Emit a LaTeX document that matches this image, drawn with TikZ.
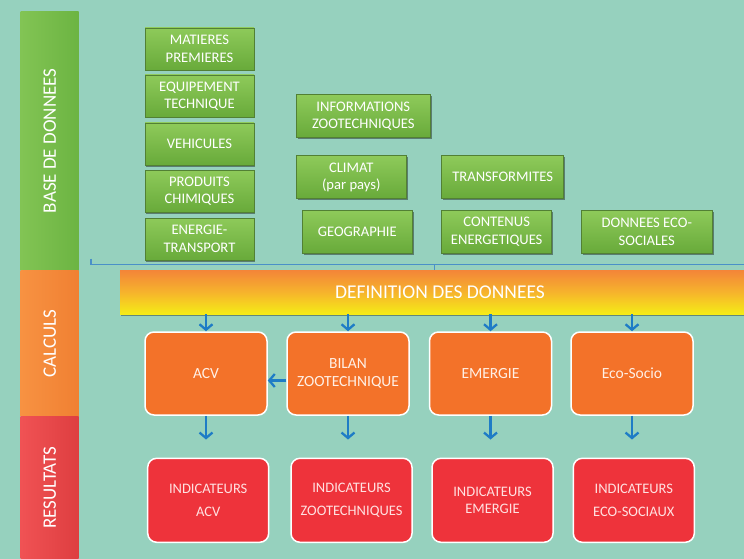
\documentclass[tikz,border=0pt]{standalone}
\usepackage{fontspec}
\setmainfont{Carlito}
\usetikzlibrary{arrows.meta,shadows}
\definecolor{bg}{RGB}{150,209,190}
\definecolor{gtop}{RGB}{142,202,90}
\definecolor{gbot}{RGB}{104,170,58}
\definecolor{gborder}{RGB}{82,128,52}
\definecolor{barg1}{RGB}{130,196,84}
\definecolor{barg2}{RGB}{108,180,66}
\definecolor{baro1}{RGB}{247,146,66}
\definecolor{baro2}{RGB}{240,128,50}
\definecolor{barr1}{RGB}{240,82,84}
\definecolor{barr2}{RGB}{222,62,64}
\definecolor{deftop}{RGB}{244,134,56}
\definecolor{defmid}{RGB}{246,180,44}
\definecolor{defbot}{RGB}{245,236,22}
\definecolor{orangebox}{RGB}{243,114,41}
\definecolor{redbox}{RGB}{238,51,59}
\definecolor{otext}{RGB}{255,240,230}
\definecolor{rtext}{RGB}{255,225,225}
\definecolor{arrowblue}{RGB}{30,124,198}
\definecolor{bracketblue}{RGB}{74,144,200}
\begin{document}
\begin{tikzpicture}[x=1pt,y=-1pt,
  gbox/.style={rectangle, draw=gborder, line width=0.8pt, top color=gtop, bottom color=gbot,
    text=white, align=center, font=\fontsize{14.6}{17.5}\selectfont, inner sep=0pt,
    drop shadow={shadow xshift=1.2pt, shadow yshift=-1.5pt, opacity=0.4, fill=black}},
  sidebar/.style={rectangle, inner sep=0pt, minimum width=58pt},
  sidetext/.style={rotate=90, text=white, font=\fontsize{19}{22}\selectfont},
  defbar/.style={rectangle, inner sep=0pt, top color=deftop, bottom color=defbot, middle color=defmid,
    text=white, font=\fontsize{19.5}{22}\selectfont,
    drop shadow={shadow xshift=1pt, shadow yshift=-1.5pt, opacity=0.35, fill=black}},
  obox/.style={rectangle, rounded corners=9pt, fill=orangebox, draw=white, line width=1.5pt,
    text=otext, align=center, font=\fontsize{15.5}{18}\selectfont,
    minimum width=122pt, minimum height=83pt, inner sep=0pt},
  rbox/.style={rectangle, rounded corners=9pt, fill=redbox, draw=white, line width=1.5pt,
    text=rtext, align=center, font=\fontsize{14.5}{23.5}\selectfont,
    minimum width=121pt, minimum height=84pt, inner sep=0pt},
  arr/.style={draw=arrowblue, line width=2.3pt, -{Straight Barb[length=5.5pt,width=13pt]}},
  bracket/.style={draw=bracketblue, line width=1.3pt}
]
\useasboundingbox (0,0) rectangle (744,559);
\fill[bg] (0,0) rectangle (744,559);

% side bars
\node[sidebar, minimum height=258.3pt, left color=barg1, right color=barg2] (base) at (49.7,140.85) {};
\node[sidetext] (baselbl) at (base.center) {BASE DE DONNEES};
\node[sidebar, minimum height=146.7pt, left color=baro1, right color=baro2] (calc) at (49.7,343.35) {};
\node[sidetext] (calclbl) at (calc.center) {CALCULS};
\node[sidebar, minimum height=142.3pt, left color=barr1, right color=barr2] (res) at (49.7,487.85) {};
\node[sidetext] (reslbl) at (res.center) {RESULTATS};

% green data boxes
\node[gbox, minimum width=109pt, minimum height=42pt] (mp) at (199.5,49) {MATIERES\\PREMIERES};
\node[gbox, minimum width=109pt, minimum height=42pt] (eq) at (199.5,96) {EQUIPEMENT\\TECHNIQUE};
\node[gbox, minimum width=109pt, minimum height=42pt] (veh) at (199.5,144) {VEHICULES};
\node[gbox, minimum width=109pt, minimum height=42pt] (pc) at (199.5,191) {PRODUITS\\CHIMIQUES};
\node[gbox, minimum width=109pt, minimum height=42pt] (en) at (199.5,239) {ENERGIE-\\TRANSPORT};
\node[gbox, minimum width=134pt, minimum height=43pt] (iz) at (363.3,116.2) {INFORMATIONS\\ZOOTECHNIQUES};
\node[gbox, minimum width=110pt, minimum height=43pt] (cl) at (351.3,177.2) {CLIMAT\\(par pays)};
\node[gbox, minimum width=110pt, minimum height=43pt] (geo) at (357.3,231.7) {GEOGRAPHIE};
\node[gbox, minimum width=122pt, minimum height=43pt] (tr) at (502.7,177.2) {TRANSFORMITES};
\node[gbox, minimum width=110pt, minimum height=43pt] (ce) at (496.7,231.7) {CONTENUS\\ENERGETIQUES};
\node[gbox, minimum width=131pt, minimum height=43pt] (des) at (646.8,231.7) {DONNEES ECO-\\SOCIALES};

% bracket
\draw[bracket] (91,258.5) -- (91,264.3) -- (744,264.3);
\draw[bracket] (434.3,264.3) -- (434.3,270.7);

% definition bar
\node[defbar, minimum width=640pt, minimum height=43.3pt] (def) at (440,292.35) {DEFINITION DES DONNEES};

% calculation boxes
\node[obox] (acv) at (206,373.5) {ACV};
\node[obox] (bil) at (348,373.5) {BILAN\\ZOOTECHNIQUE};
\node[obox] (emg) at (490.5,373.5) {EMERGIE};
\node[obox] (eco) at (632,373.5) {Eco-Socio};

% result boxes
\node[rbox] (racv) at (208.2,500.3) {INDICATEURS\\ACV};
\node[rbox] (rzoo) at (351.5,500.3) {INDICATEURS\\ZOOTECHNIQUES};
\node[rbox, font=\fontsize{14.5}{17}\selectfont] (remg) at (492.5,500.3) {INDICATEURS\\EMERGIE};
\node[rbox] (reco) at (633.8,500.3) {INDICATEURS\\ECO-SOCIAUX};

% arrows
\foreach \b in {acv,bil,emg,eco}{
  \draw[arr] (\b.north |- def.south) -- (\b.north);
}
\draw[arr, shorten >=18pt] (acv.south) -- (acv.south |- racv.north);
\draw[arr, shorten >=18pt] (bil.south) -- (bil.south |- rzoo.north);
\draw[arr, shorten >=18pt] (emg.south) -- (emg.south |- remg.north);
\draw[arr, shorten >=18pt] (eco.south) -- (eco.south |- reco.north);
\draw[arr] ([yshift=-7pt]bil.west) -- ([yshift=-7pt]acv.east);
\end{tikzpicture}
\end{document}
